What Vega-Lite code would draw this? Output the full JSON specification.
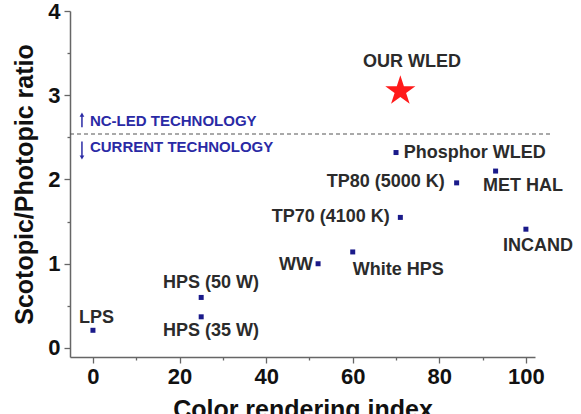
{
  "$schema": "https://vega.github.io/schema/vega-lite/v6.json",
  "autosize": "none",
  "width": 465,
  "height": 346,
  "padding": {"left": 70, "top": 11, "right": 46, "bottom": 57},
  "background": "white",
  "config": {
    "view": {"stroke": null},
    "font": "Liberation Sans",
    "axis": {
      "grid": false,
      "domainColor": "#666666",
      "domainWidth": 1.5,
      "tickColor": "#666666",
      "tickWidth": 1.3,
      "labelFont": "Liberation Sans",
      "labelFontWeight": "bold",
      "labelFontSize": 22,
      "labelColor": "#111111",
      "titleFont": "Liberation Sans",
      "titleFontWeight": "bold",
      "titleFontSize": 25,
      "titleColor": "#111111"
    }
  },
  "datasets": {
    "lamps": [
      {"name": "LPS", "cri": 0, "ratio": 0.21, "lx": -3.2, "ly": 0.36},
      {"name": "HPS (50 W)", "cri": 25, "ratio": 0.6, "lx": 16.2, "ly": 0.77},
      {"name": "HPS (35 W)", "cri": 25, "ratio": 0.37, "lx": 16.2, "ly": 0.2},
      {"name": "WW", "cri": 52, "ratio": 1.0, "lx": 43.0, "ly": 0.985},
      {"name": "White HPS", "cri": 60, "ratio": 1.14, "lx": 60.0, "ly": 0.93},
      {"name": "TP70 (4100 K)", "cri": 71, "ratio": 1.55, "lx": 41.3, "ly": 1.555},
      {"name": "INCAND", "cri": 100, "ratio": 1.41, "lx": 94.7, "ly": 1.21},
      {"name": "Phosphor WLED", "cri": 70, "ratio": 2.32, "lx": 71.8, "ly": 2.32},
      {"name": "TP80 (5000 K)", "cri": 84, "ratio": 1.96, "lx": 54.0, "ly": 1.97},
      {"name": "MET HAL", "cri": 93, "ratio": 2.1, "lx": 90.1, "ly": 1.92}
    ],
    "ours": [
      {"name": "OUR WLED", "cri": 71, "ratio": 3.05, "lx": 62.4, "ly": 3.4}
    ],
    "threshold": [
      {"x": -5.3, "x2": 106, "y": 2.54}
    ],
    "notes": [
      {"text": "NC-LED TECHNOLOGY", "x": -0.7, "y": 2.69},
      {"text": "CURRENT TECHNOLOGY", "x": -0.7, "y": 2.38}
    ],
    "arrows": [
      {"dir": "up", "x": -2.54, "y": 2.62, "y2": 2.76, "tip": 2.77},
      {"dir": "down", "x": -2.54, "y": 2.45, "y2": 2.27, "tip": 2.26}
    ]
  },
  "encoding": {
    "x": {"type": "quantitative",
      "scale": {"domain": [-5.3, 102.1], "nice": false, "zero": false},
      "axis": {
        "title": "Color rendering index",
        "orient": "bottom",
        "values": [0, 10, 20, 30, 40, 50, 60, 70, 80, 90, 100],
        "labelExpr": "datum.value % 20 === 0 ? format(datum.value, 'd') : ''",
        "tickSize": {"condition": {"test": "datum.value % 20 !== 0", "value": 3}, "value": 6},
        "labelPadding": 3,
        "titlePadding": 10
      }},
    "y": {"type": "quantitative",
      "scale": {"domain": [-0.107, 4], "nice": false, "zero": false},
      "axis": {
        "title": "Scotopic/Photopic ratio",
        "orient": "left",
        "values": [0, 0.5, 1, 1.5, 2, 2.5, 3, 3.5, 4],
        "labelExpr": "datum.value % 1 === 0 ? format(datum.value, 'd') : ''",
        "tickSize": {"condition": {"test": "datum.value % 1 !== 0", "value": 3}, "value": 6},
        "labelPadding": 4,
        "titlePadding": 10
      }}
  },
  "layer": [
    {
      "data": {"name": "threshold"},
      "mark": {"type": "rule", "color": "#555555", "strokeWidth": 1.2, "strokeDash": [4, 3]},
      "encoding": {
        "x": {"field": "x", "type": "quantitative"},
        "x2": {"field": "x2"},
        "y": {"field": "y", "type": "quantitative"}
      }
    },
    {
      "data": {"name": "lamps"},
      "mark": {"type": "point", "shape": "square", "filled": true, "size": 25, "color": "#1a1a8a", "opacity": 1},
      "encoding": {
        "x": {"field": "cri", "type": "quantitative"},
        "y": {"field": "ratio", "type": "quantitative"}
      }
    },
    {
      "data": {"name": "lamps"},
      "mark": {"type": "text", "align": "left", "baseline": "middle", "fontSize": 18, "fontWeight": "bold", "color": "#2b2b2b"},
      "encoding": {
        "x": {"field": "lx", "type": "quantitative"},
        "y": {"field": "ly", "type": "quantitative"},
        "text": {"field": "name"}
      }
    },
    {
      "data": {"name": "ours"},
      "mark": {"type": "point", "shape": "M0,-1L0.2245,-0.309L0.9511,-0.309L0.3633,0.118L0.5878,0.809L0,0.382L-0.5878,0.809L-0.3633,0.118L-0.9511,-0.309L-0.2245,-0.309Z", "filled": true, "size": 1000, "color": "#ff1a1a", "opacity": 1},
      "encoding": {
        "x": {"field": "cri", "type": "quantitative"},
        "y": {"field": "ratio", "type": "quantitative"}
      }
    },
    {
      "data": {"name": "ours"},
      "mark": {"type": "text", "align": "left", "baseline": "middle", "fontSize": 18, "fontWeight": "bold", "color": "#2b2b2b"},
      "encoding": {
        "x": {"field": "lx", "type": "quantitative"},
        "y": {"field": "ly", "type": "quantitative"},
        "text": {"field": "name"}
      }
    },
    {
      "data": {"name": "notes"},
      "mark": {"type": "text", "align": "left", "baseline": "middle", "fontSize": 15, "fontWeight": "bold", "color": "#2a2aa5"},
      "encoding": {
        "x": {"field": "x", "type": "quantitative"},
        "y": {"field": "y", "type": "quantitative"},
        "text": {"field": "text"}
      }
    },
    {
      "data": {"name": "arrows"},
      "mark": {"type": "rule", "color": "#2a2aa5", "strokeWidth": 1.5},
      "encoding": {
        "x": {"field": "x", "type": "quantitative"},
        "y": {"field": "y", "type": "quantitative"},
        "y2": {"field": "y2"}
      }
    },
    {
      "data": {"name": "arrows"},
      "mark": {"type": "point", "filled": true, "size": 22, "color": "#2a2aa5", "opacity": 1},
      "encoding": {
        "x": {"field": "x", "type": "quantitative"},
        "y": {"field": "tip", "type": "quantitative"},
        "shape": {"field": "dir", "type": "nominal",
          "scale": {"domain": ["up", "down"], "range": ["triangle-up", "triangle-down"]},
          "legend": null}
      }
    }
  ]
}
